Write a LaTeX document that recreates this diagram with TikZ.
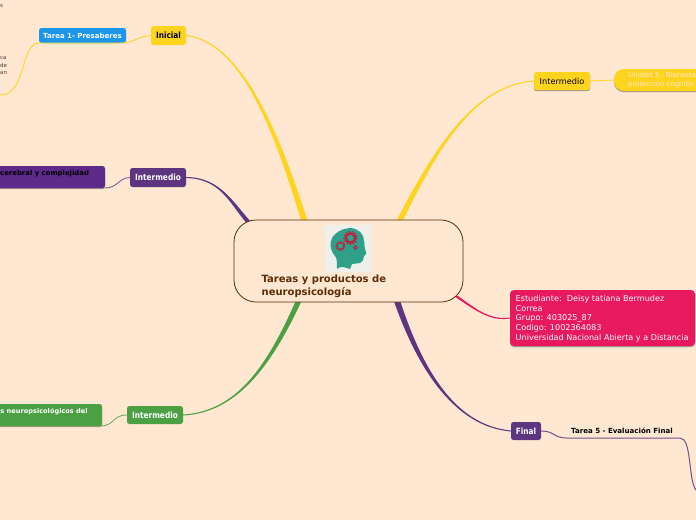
\documentclass[tikz,border=0pt]{standalone}
\usepackage{fontspec}
\setmainfont{DejaVu Sans}
\newfontfamily\cnd[FakeStretch=0.86]{DejaVu Sans}
\usetikzlibrary{calc,shadows}
\definecolor{bgc}{HTML}{FFE7D1}
\definecolor{yel}{HTML}{FFD41F}
\definecolor{pur}{HTML}{5D3580}
\definecolor{purb}{HTML}{5E2A8A}
\definecolor{grn}{HTML}{4BA044}
\definecolor{pnk}{HTML}{E8195F}
\definecolor{blu}{HTML}{1B96E8}
\definecolor{brn}{HTML}{5B2C06}
\definecolor{teal1}{HTML}{2FA18B}
\definecolor{gear}{HTML}{C0203F}
\definecolor{iconbg}{HTML}{EFF0EC}
\tikzset{
  x=1pt,y=-1pt,
  boxn/.style={rectangle,rounded corners=2.5pt,inner sep=0pt,outer sep=0pt},
  shad/.style={drop shadow={shadow xshift=0pt,shadow yshift=-1.2pt,opacity=.35,fill=black}},
  main/.style={boxn,font=\fontsize{8.2}{10}\selectfont},
  mainb/.style={boxn,text=white,font=\cnd\fontsize{8.6}{10}\selectfont\bfseries},
  sub/.style={font=\fontsize{6.9}{9}\selectfont\bfseries,inner sep=0pt},
  tiny/.style={font=\fontsize{5.5}{8}\selectfont,text=black!75,inner sep=0pt,anchor=west},
  thin1/.style={line width=.9pt},
  gearline/.style={draw=gear,fill=none}
}
\newcommand{\taper}[7]{% colour, from, c1, c2, to, half-width at the end, side
  \fill[#1] ($(#2)+(0,-.5)$) .. controls ($#3+(0,-.8)$) and ($#4+(#7*#6*.75,0)$) .. ($(#5)+(#7*#6,0)$)
     -- ($(#5)+(-#7*#6,0)$) .. controls ($#4+(-#7*#6*.75,0)$) and ($#3+(0,.8)$) .. ($(#2)+(0,.5)$) -- cycle;}
\begin{document}
\begin{tikzpicture}
\useasboundingbox (0,0) rectangle (696,520);
\clip (0,0) rectangle (696,520);
\fill[bgc] (0,0) rectangle (696,520);
% end points of tapered branches
\coordinate (eA) at (306,226);
\coordinate (eB) at (397,226);
\coordinate (eC) at (252,226);
\coordinate (eD) at (300,298);
\coordinate (eE) at (396,298);
\coordinate (eF) at (456,296);
% free ends
\coordinate (t1a) at (39,43);
\coordinate (t1b) at (0,95);
\coordinate (t5a) at (567,438);
\coordinate (t5b) at (680,438);
\coordinate (t5c) at (696,490);
% nodes
\node[mainb,text=black,fill=yel,minimum width=35pt,minimum height=19pt] (ini) at (168.5,35.5) {Inicial};
\node[boxn,fill=blu,minimum width=87pt,minimum height=15pt,text=white,font=\fontsize{7}{9}\selectfont\bfseries] (t1) at (82.5,35.5) {Tarea 1- Presaberes};
\node[main,fill=yel,shad,minimum width=56pt,minimum height=18pt] (imr) at (562,81) {Intermedio};
\node[rectangle,rounded corners=10pt,fill=yel,shad,minimum width=102pt,minimum height=22pt,inner sep=0pt] (u3) at (665,80) {};
\node[inner sep=0pt,anchor=west,text=bgc,align=left,font=\fontsize{6.9}{8.6}\selectfont] (u3t) at (628,80) {Unidad 3 - Bienesta\\protección cognitiv};
\node[mainb,fill=pur,minimum width=56pt,minimum height=19pt] (iml) at (158,177.5) {Intermedio};
\node[boxn,fill=purb,minimum width=125pt,minimum height=22pt,shad] (pb) at (42.5,177) {};
\node[sub,anchor=west] (pbt) at (0,173.5) {cerebral y complejidad};
\node[mainb,fill=grn,minimum width=56pt,minimum height=18pt] (img) at (155,415) {Intermedio};
\node[boxn,fill=grn,minimum width=122pt,minimum height=22pt,shad] (gb) at (41,415) {};
\node[sub,anchor=west,text=white,font=\fontsize{6.6}{9}\selectfont\bfseries] (gbt) at (0.3,411.5) {s neuropsicológicos del};
\node[boxn,rounded corners=4pt,fill=pnk,shad,minimum width=185pt,minimum height=56pt] (est) at (602.5,318) {};
\node[inner sep=0pt,anchor=north west,text=white!85!bgc,align=left,font=\fontsize{8.1}{9.6}\selectfont] (estt) at (515.5,295.3) {Estudiante:\ \ Deisy tatiana Bermudez\\Correa\\Grupo: 403025\_87\\Codigo: 1002364083\\Universidad Nacional Abierta y a Distancia};
\node[mainb,fill=pur,minimum width=30pt,minimum height=18pt] (fin) at (526,431) {Final};
\node[sub,anchor=west,font=\fontsize{7.05}{9}\selectfont\bfseries] (t5) at (571,430.5) {Tarea 5 - Evaluación Final};
% tapered main branches
\taper{yel}{ini.east}{(240,42)}{(275,125)}{eA}{3.2}{1}
\taper{yel}{imr.west}{(470,85)}{(430,160)}{eB}{3.2}{-1}
\taper{pur}{iml.east}{(222,178)}{(232,205)}{eC}{2.8}{1}
\taper{grn}{img.east}{(240,412)}{(272,360)}{eD}{3}{-1}
\taper{pur}{fin.west}{(455,426)}{(420,370)}{eE}{3.2}{1}
\taper{pnk}{est.west}{(490,321)}{(476,310)}{eF}{2}{1}
% thin connectors
\draw[yel,thin1] (ini.west) .. controls (138,36) and (135,43) .. (120,43) -- (t1a) .. controls (20,43) and (27,95) .. (t1b);
\draw[yel,line width=.8pt] (imr.east) -- (u3.west);
\draw[pur!75!bgc,thin1] (iml.west) .. controls (118,178) and (118,188) .. (105,188);
\draw[grn!80!bgc,thin1] (img.west) .. controls (112,415) and (115,426) .. (100,426);
\draw[pur!85!bgc,line width=1pt] (fin.east) .. controls (555,431) and (553,438) .. (t5a) -- (t5b) .. controls (692,438) and (688,480) .. (t5c);
% central node
\node[rectangle,rounded corners=22pt,draw=brn,fill=bgc,line width=.8pt,minimum width=229pt,minimum height=82pt,inner sep=0pt] (cen) at (348.5,261) {};
\node[inner sep=0pt,anchor=north west,text=brn,align=left,font=\fontsize{10}{13}\selectfont\bfseries] (cent) at (261.5,275) {Tareas y productos de\\neuropsicología};
% icon
\fill[iconbg,rounded corners=1.5pt] (325,225) rectangle (372,272);
\fill[teal1] (337,269) .. controls (337,262) and (337,258) .. (335,256)
  .. controls (330,250) and (329,244) .. (332,238)
  .. controls (336,231) and (345,228) .. (351,228)
  .. controls (359,229) and (364,234) .. (364,241)
  .. controls (365,245) and (364,247) .. (365,249)
  -- (366,252) .. controls (367,254) and (366,254) .. (364,256)
  .. controls (363,260) and (363,262) .. (360,263)
  .. controls (358,264) and (355,263) .. (352,264) -- (350,269)
  .. controls (346,268) and (341,265) .. (337,269) -- cycle;
\draw[gearline,line width=2pt] (350.5,238) circle (4.5);
\draw[gearline,line width=2.2pt,dash pattern=on 1.5pt off 1.4pt] (350.5,238) circle (6);
\draw[gearline,line width=1.1pt] (340.5,246) circle (3.4);
\draw[gearline,line width=1.6pt,dash pattern=on 1.2pt off 1.2pt] (340.5,246) circle (4.3);
\draw[gearline,line width=1pt] (355.5,247.5) circle (1.7);
% clipped fragments at the left
\node[tiny] (f1) at (0,5.5) {s};
\node[tiny] (f2) at (0,58) {ca};
\node[tiny] (f3) at (0,65.5) {de};
\node[tiny] (f4) at (0,73) {an};
\end{tikzpicture}
\end{document}
